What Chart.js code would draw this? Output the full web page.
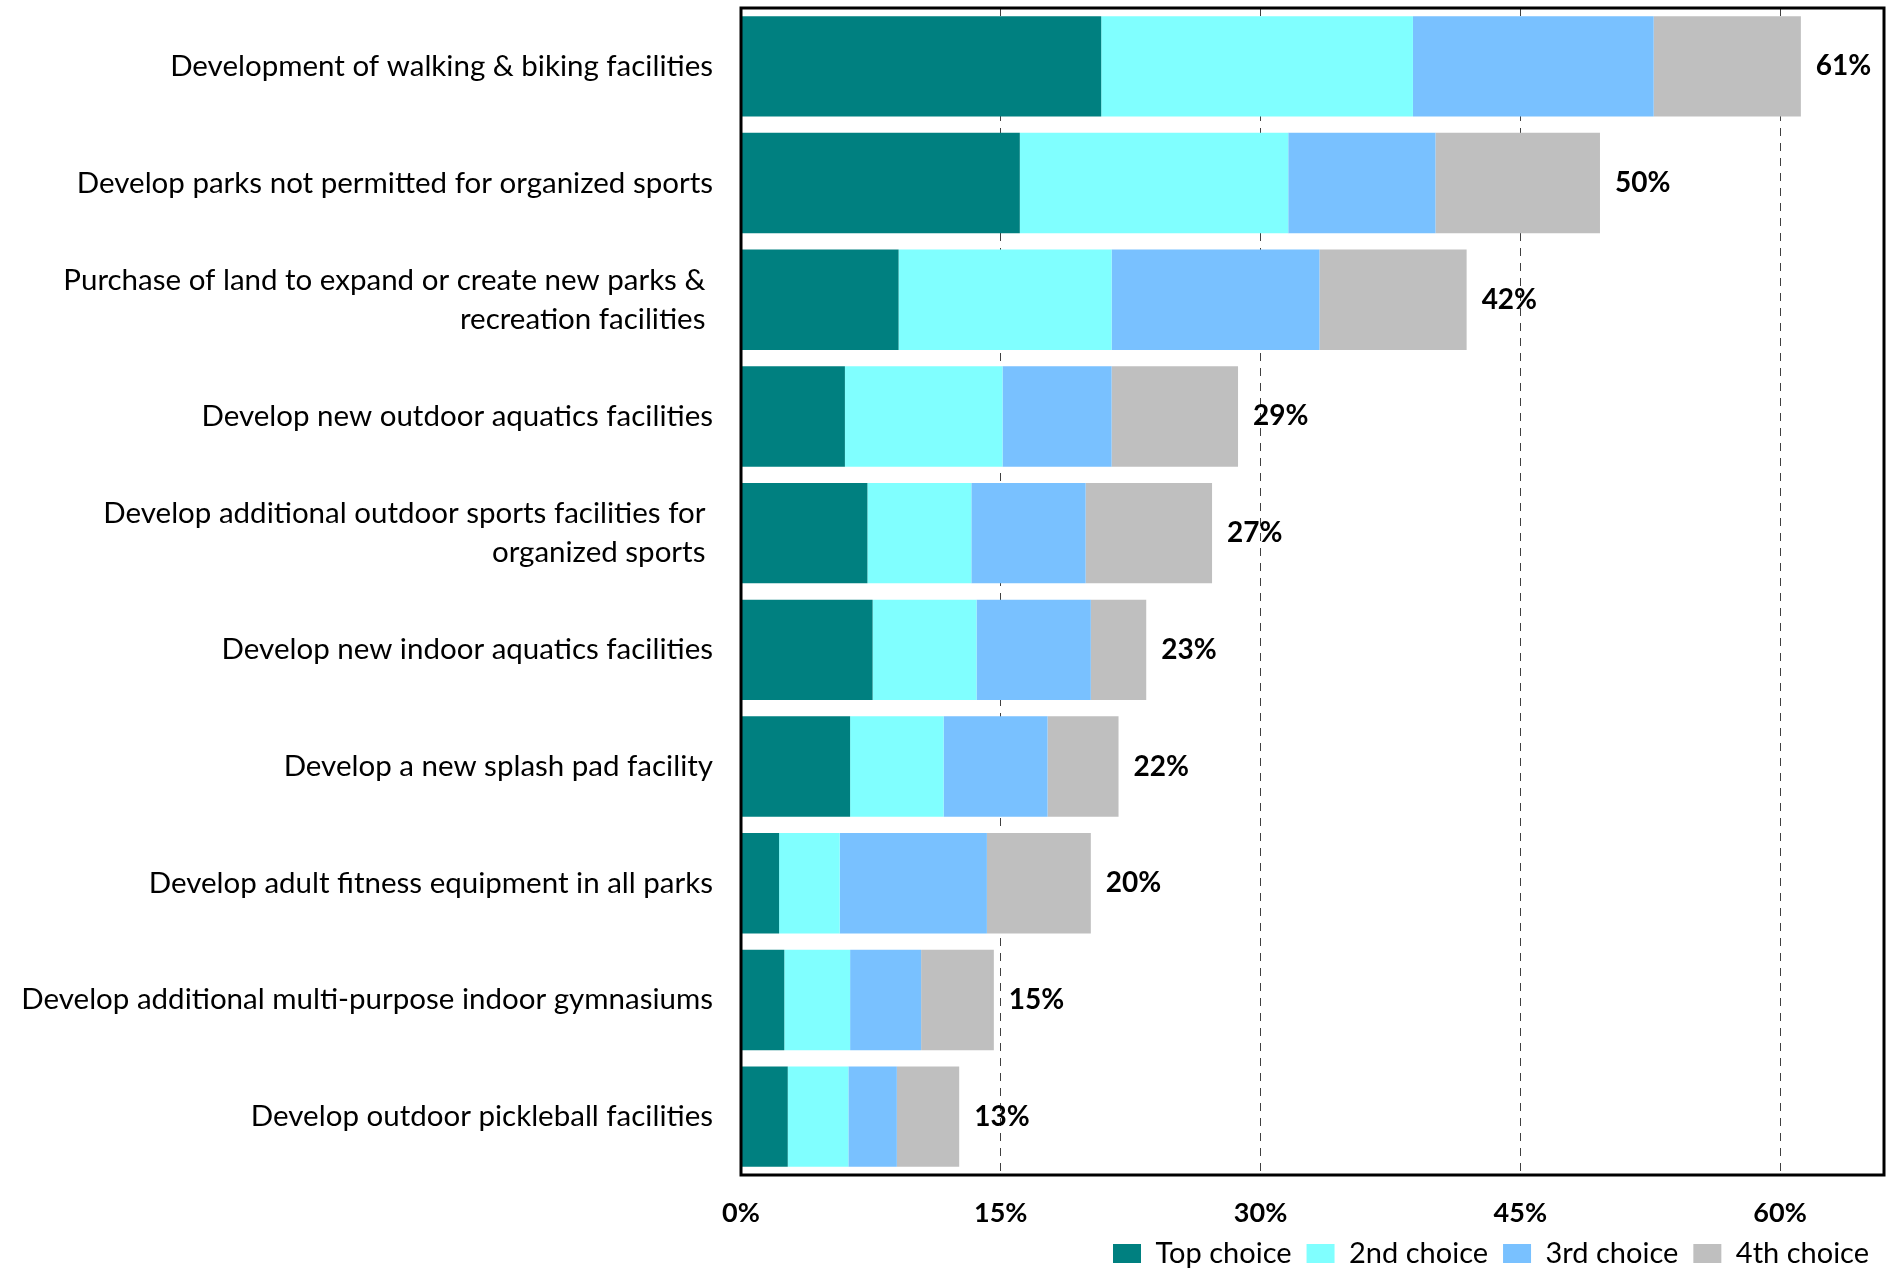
<!DOCTYPE html>
<html lang="en">
<head>
    <meta charset="UTF-8">
    <title>Facility priorities</title>
    <script src="https://cdn.jsdelivr.net/npm/chart.js"></script>
    <style>
        body { margin: 0; background: #fff; }
        .wrap { width: 1886px; height: 1270px; position: relative; }
    </style>
</head>
<body>
    <div class="wrap">
        <canvas id="priorities"></canvas>
    </div>

    <script>
        const categories = [
            'Development of walking & biking facilities',
            'Develop parks not permitted for organized sports',
            ['Purchase of land to expand or create new parks & ', 'recreation facilities '],
            'Develop new outdoor aquatics facilities',
            ['Develop additional outdoor sports facilities for ', 'organized sports '],
            'Develop new indoor aquatics facilities',
            'Develop a new splash pad facility',
            'Develop adult fitness equipment in all parks',
            'Develop additional multi-purpose indoor gymnasiums',
            'Develop outdoor pickleball facilities'
        ];

        const topChoice    = [20.8, 16.1, 9.1, 6.0, 7.3, 7.6, 6.3, 2.2, 2.5, 2.7];
        const secondChoice = [18.0, 15.5, 12.3, 9.1, 6.0, 6.0, 5.4, 3.5, 3.8, 3.5];
        const thirdChoice  = [13.9, 8.5, 12.0, 6.3, 6.6, 6.6, 6.0, 8.5, 4.1, 2.8];
        const fourthChoice = [8.5, 9.5, 8.5, 7.3, 7.3, 3.2, 4.1, 6.0, 4.2, 3.6];

        const xTicks = [0, 15, 30, 45, 60];

        const totals = categories.map((c, i) =>
            topChoice[i] + secondChoice[i] + thirdChoice[i] + fourthChoice[i]);

        // black frame round the plot area
        const frame = {
            id: 'frame',
            afterDraw(chart) {
                const { ctx, chartArea: a } = chart;
                ctx.save();
                ctx.strokeStyle = '#000';
                ctx.lineWidth = 3;
                ctx.strokeRect(a.left, a.top, a.right - a.left, a.bottom - a.top);
                ctx.restore();
            }
        };

        // total percentage after each bar
        const totalLabels = {
            id: 'totalLabels',
            afterDatasetsDraw(chart) {
                const { ctx, scales: { x, y } } = chart;
                ctx.save();
                ctx.fillStyle = '#000';
                ctx.font = 'bold 28px Lato';
                ctx.textAlign = 'left';
                ctx.textBaseline = 'middle';
                totals.forEach((t, i) => {
                    ctx.fillText(Math.round(t) + '%', x.getPixelForValue(t) + 15, y.getPixelForValue(i));
                });
                ctx.restore();
            }
        };

        // legend row sits a little higher; keep its bottom at the canvas edge
        const legendShift = {
            id: 'legendShift',
            afterLayout(chart) {
                chart.legend.top -= 5;
            }
        };

        new Chart(document.getElementById('priorities'), {
            type: 'bar',
            data: {
                labels: categories,
                datasets: [
                    { label: 'Top choice', data: topChoice, backgroundColor: '#008080' },
                    { label: '2nd choice', data: secondChoice, backgroundColor: '#80FFFF' },
                    { label: '3rd choice', data: thirdChoice, backgroundColor: '#79C1FF' },
                    { label: '4th choice', data: fourthChoice, backgroundColor: '#BFBFBF' }
                ]
            },
            options: {
                indexAxis: 'y',
                responsive: true,
                maintainAspectRatio: false,
                animation: false,
                layout: { padding: { top: 8, right: 2, left: 0, bottom: 0 } },
                datasets: {
                    bar: { categoryPercentage: 0.86, barPercentage: 1 }
                },
                scales: {
                    x: {
                        stacked: true,
                        min: 0,
                        max: 66,
                        afterBuildTicks(scale) {
                            scale.ticks = xTicks.map(v => ({ value: v }));
                        },
                        afterFit(scale) {
                            scale.height = 54;
                            scale.paddingLeft = 0;
                            scale.paddingRight = 0;
                        },
                        ticks: {
                            callback: v => v + '%',
                            color: '#000',
                            padding: 22,
                            maxRotation: 0,
                            font: { family: 'Lato', size: 27, weight: 'bold' }
                        },
                        grid: {
                            color: '#404040',
                            lineWidth: 1,
                            drawTicks: false
                        },
                        border: { display: false, dash: [8, 7] }
                    },
                    y: {
                        stacked: true,
                        afterFit(scale) {
                            scale.width = 741;
                            scale.paddingTop = 0;
                            scale.paddingBottom = 0;
                        },
                        ticks: {
                            color: '#000',
                            padding: 28,
                            autoSkip: false,
                            font: { family: 'Lato', size: 29.5, lineHeight: 1.32 }
                        },
                        grid: { display: false, drawTicks: false },
                        border: { display: false }
                    }
                },
                plugins: {
                    legend: {
                        position: 'bottom',
                        align: 'end',
                        maxHeight: 41,
                        labels: {
                            color: '#000',
                            boxWidth: 28,
                            boxHeight: 19,
                            padding: 15,
                            font: { family: 'Lato', size: 29 }
                        }
                    },
                    tooltip: { enabled: false }
                }
            },
            plugins: [frame, totalLabels, legendShift]
        });
    </script>
</body>
</html>
